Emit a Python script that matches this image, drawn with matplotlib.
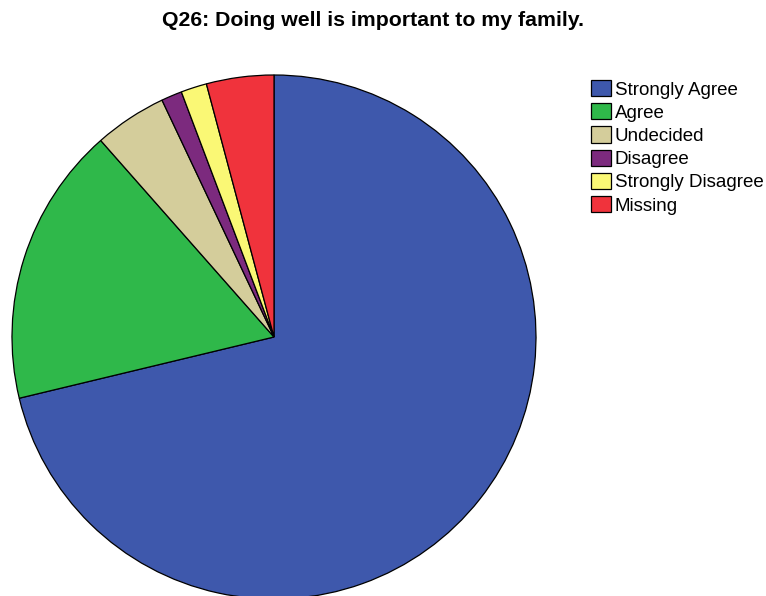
import matplotlib
matplotlib.use('Agg')
import matplotlib.pyplot as plt

plt.rcParams['font.family'] = ['Liberation Sans', 'DejaVu Sans']

# ответы на вопрос Q26 (количество респондентов)
categories = ['Strongly Agree', 'Agree', 'Undecided', 'Disagree', 'Strongly Disagree', 'Missing']
counts = [223, 54, 14, 4, 5, 13]
colors = ['#3E58AC', '#2FB84A', '#D4CD9B', '#7C2A7E', '#FAF875', '#F0333C']

fig = plt.figure(figsize=(7.66, 5.96), dpi=100)
W, H = 766, 596
cx, cy, r = 274, 337, 262
ax = fig.add_axes([(cx - r) / W, (H - cy - r) / H, 2 * r / W, 2 * r / H])

wedges, _ = ax.pie(counts, colors=colors, startangle=90, counterclock=False,
                   radius=1, wedgeprops=dict(edgecolor='black', linewidth=0.9))
for w in wedges:
    w.set_clip_on(False)
ax.set_xlim(-1, 1)
ax.set_ylim(-1, 1)
ax.set_aspect('equal')
ax.axis('off')

fig.text(373.5 / W, 1 - 20 / H, 'Q26: Doing well is important to my family.',
         ha='center', va='center', fontsize=15.3, fontweight='bold')

fig.legend(wedges, categories, loc='upper left', bbox_to_anchor=(591 / W, 1 - 80 / H),
           frameon=False, fontsize=13.5, handlelength=1.07, handleheight=0.95,
           handletextpad=0.2, labelspacing=0.25, borderpad=0, borderaxespad=0)

fig.savefig('out.png', dpi=100)
